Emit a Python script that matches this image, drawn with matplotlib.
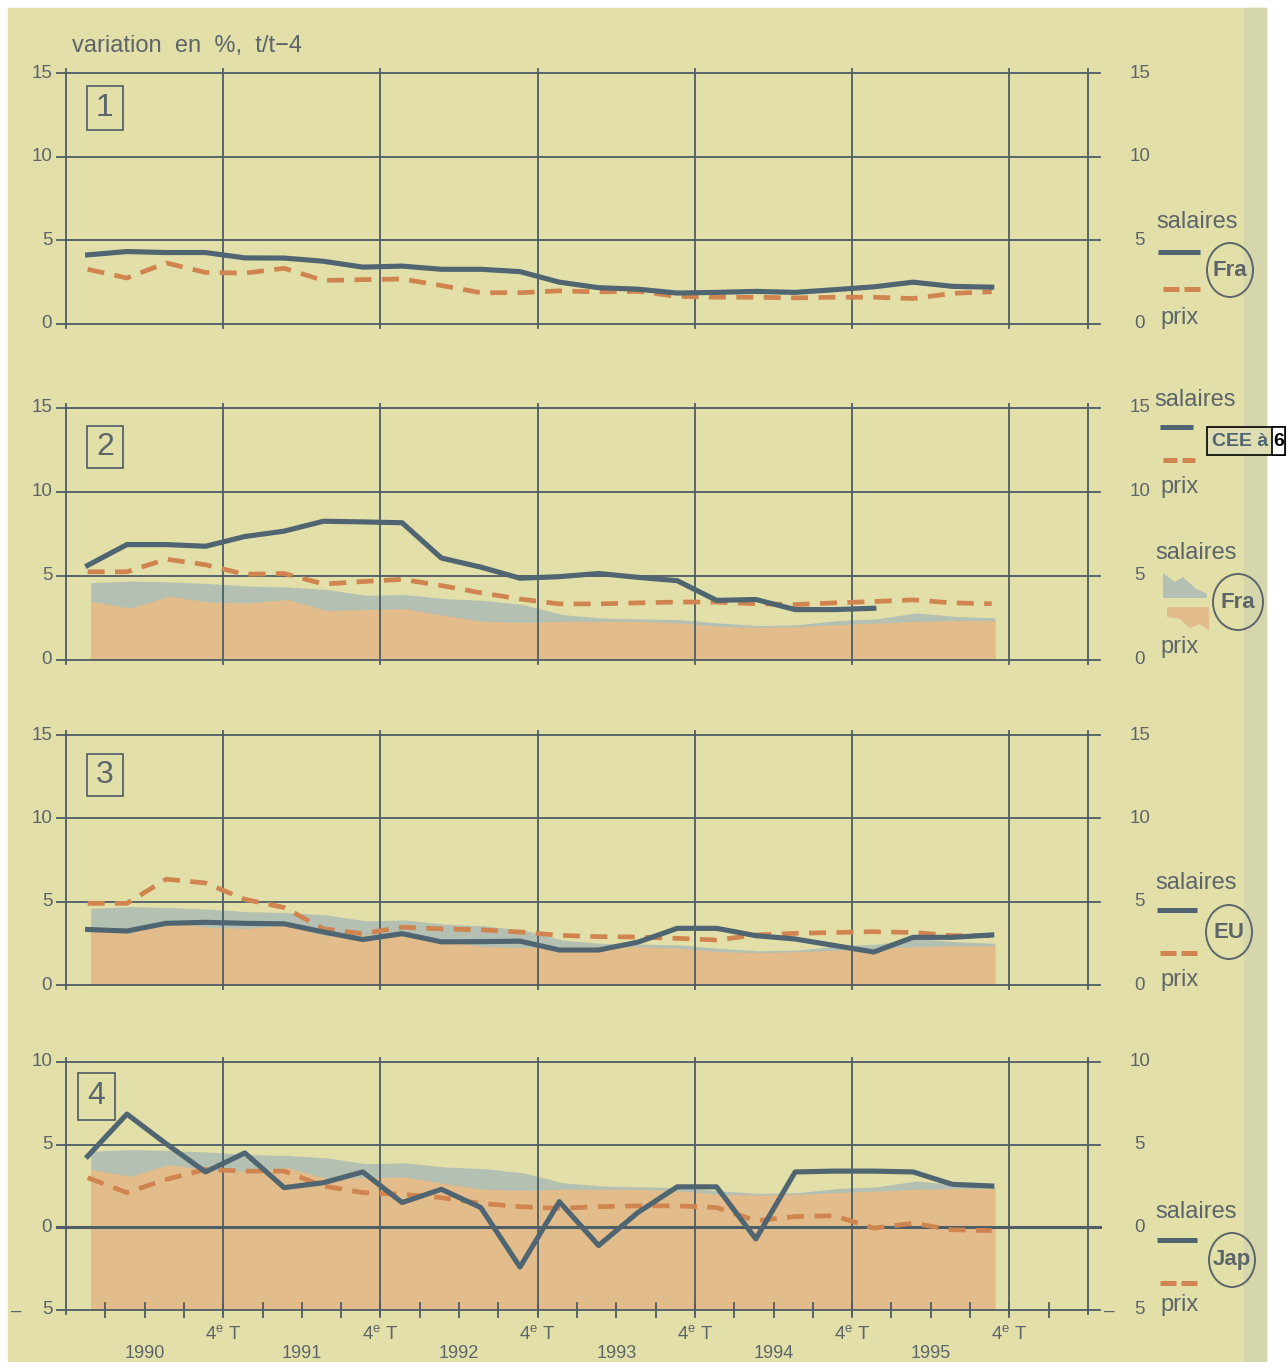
import numpy as np
import matplotlib
matplotlib.use('Agg')
import matplotlib.pyplot as plt
import matplotlib.transforms as mtransforms
from matplotlib.patches import Rectangle, Ellipse, Polygon
from matplotlib.lines import Line2D

plt.rcParams['font.family'] = ['Liberation Sans', 'DejaVu Sans']
plt.rcParams['mathtext.fontset'] = 'custom'
plt.rcParams['mathtext.rm'] = 'Liberation Sans'

# --- données (variation en %, t/t-4), 1990T1 ... 1995T4 ---
annees = ['1990', '1991', '1992', '1993', '1994', '1995']

fra_salaires = [4.13, 4.33, 4.27, 4.27, 3.95, 3.94, 3.75, 3.40, 3.46, 3.27, 3.27, 3.13,
                2.50, 2.17, 2.08, 1.85, 1.89, 1.95, 1.89, 2.05, 2.22, 2.50, 2.25, 2.20]
fra_prix = [3.27, 2.75, 3.65, 3.08, 3.04, 3.33, 2.60, 2.65, 2.69, 2.30, 1.87, 1.87,
            1.98, 1.92, 1.95, 1.65, 1.60, 1.60, 1.56, 1.60, 1.60, 1.52, 1.83, 1.93]

cee_salaires = [5.63, 6.87, 6.87, 6.77, 7.35, 7.67, 8.26, 8.22, 8.17, 6.07, 5.53, 4.87,
                4.96, 5.15, 4.92, 4.72, 3.55, 3.60, 3.00, 3.00, 3.08]
cee_prix = [5.25, 5.25, 6.00, 5.67, 5.10, 5.15, 4.52, 4.67, 4.80, 4.43, 4.00, 3.63,
            3.34, 3.34, 3.40, 3.45, 3.45, 3.35, 3.30, 3.40, 3.48, 3.58, 3.40, 3.35]

eu_salaires = [3.33, 3.24, 3.70, 3.76, 3.70, 3.67, 3.18, 2.73, 3.08, 2.59, 2.60, 2.63,
               2.10, 2.10, 2.57, 3.40, 3.40, 2.96, 2.76, 2.37, 1.98, 2.86, 2.86, 3.00]
eu_prix = [4.90, 4.90, 6.35, 6.12, 5.14, 4.65, 3.37, 3.08, 3.47, 3.37, 3.31, 3.18,
           2.98, 2.90, 2.88, 2.80, 2.70, 3.00, 3.10, 3.15, 3.20, 3.15, 2.96, 2.96]

jap_salaires = [4.30, 6.85, 5.05, 3.35, 4.50, 2.40, 2.70, 3.35, 1.50, 2.30, 1.20, -2.40,
                1.55, -1.10, 0.90, 2.45, 2.45, -0.70, 3.35, 3.40, 3.40, 3.35, 2.60, 2.50]
jap_prix = [3.00, 2.10, 2.90, 3.50, 3.40, 3.40, 2.50, 2.10, 2.00, 1.80, 1.45, 1.25,
            1.15, 1.25, 1.30, 1.30, 1.20, 0.40, 0.65, 0.70, -0.05, 0.25, -0.15, -0.20]

# fond de comparaison (France) dans les cadres 2 à 4
fond_salaires = [4.60, 4.70, 4.65, 4.55, 4.40, 4.35, 4.20, 3.85, 3.90, 3.65, 3.55, 3.30,
                 2.70, 2.50, 2.45, 2.40, 2.20, 2.05, 2.10, 2.35, 2.45, 2.80, 2.60, 2.50]
fond_prix = [3.50, 3.10, 3.80, 3.45, 3.40, 3.60, 2.95, 3.00, 3.05, 2.65, 2.30, 2.25,
             2.30, 2.30, 2.30, 2.20, 2.00, 1.95, 2.00, 2.10, 2.20, 2.30, 2.35, 2.35]

# --- style ---
W, H = 1287, 1362
FOND = '#e3dfa9'
GRILLE = '#4e5d66'
SAL = '#4f6571'
PRIX = '#d0844f'
PECHE = '#e2bd8b'
GRIS = '#b3c0b2'
TEXTE = '#5c666a'
X0, X1 = 66, 1088          # bord gauche / droit des cadres en pixels
TAILLE = 13.5


def fx(x):
    return x / W


def fy(y):
    return 1 - y / H


def pos(n, decal=0.55):
    return np.arange(n) + decal


fig = plt.figure(figsize=(W / 100, H / 100), dpi=100)
fig.patch.set_facecolor('white')
fig.add_artist(Rectangle((fx(8), 0), fx(1266) - fx(8), fy(8), transform=fig.transFigure,
                         color=FOND, zorder=-10))
fig.add_artist(Rectangle((fx(1244), 0), fx(22), fy(8), transform=fig.transFigure,
                         color='#d5d6ab', zorder=-9))

fig.text(fx(72), fy(46), 'variation  en  %,  t/t\u22124', fontsize=17, color=TEXTE,
         va='center', ha='left')


def cadre(top, bot, ymin, ymax, numero, boite):
    ax = fig.add_axes([fx(X0), fy(bot), fx(X1) - fx(X0), (bot - top) / H])
    ax.set_xlim(0, 26)
    ax.set_ylim(ymin, ymax)
    ax.axis('off')
    ext = 0.25 * (ymax - ymin) / 15
    for y in range(ymin, ymax + 1, 5):
        ax.plot([-0.22, 26.3], [y, y], color=GRILLE, lw=1.3, clip_on=False, zorder=2)
    for x in [0, 4, 8, 12, 16, 20, 24, 26]:
        ax.plot([x, x], [ymin - ext, ymax + ext], color=GRILLE, lw=1.3,
                clip_on=False, zorder=2)
    for y in range(ymin, ymax + 1, 5):
        lab = str(abs(y))
        ax.text(-0.35, y, lab, ha='right', va='center', fontsize=TAILLE, color=TEXTE)
        ax.text(27.32, y, lab, ha='center', va='center', fontsize=TAILLE, color=TEXTE)
    bx0, by0, bx1, by1 = boite
    fig.add_artist(Rectangle((fx(bx0), fy(by1)), fx(bx1 - bx0), (by1 - by0) / H,
                             transform=fig.transFigure, fill=False, ec=GRILLE, lw=1.2))
    fig.text(fx((bx0 + bx1) / 2), fy((by0 + by1) / 2), numero, ha='center', va='center',
             fontsize=23, color=TEXTE)
    return ax


def courbes(ax, salaires, prix, ymin, fond=True):
    if fond:
        xf = pos(len(fond_salaires), 0.63)
        ax.fill_between(xf, ymin, fond_salaires, color=GRIS, lw=0, zorder=0)
        ax.fill_between(xf, ymin, fond_prix, color=PECHE, lw=0, zorder=0.5)
    ax.plot(pos(len(prix)), prix, color=PRIX, lw=3.4, dashes=(3.6, 2.2),
            dash_capstyle='butt', zorder=3)
    ax.plot(pos(len(salaires)), salaires, color=SAL, lw=3.7,
            solid_joinstyle='round', zorder=4)


def trait(x0, x1, y, tirets=False):
    if tirets:
        m = (x0 + x1) / 2
        for a, b in [(x0, m - 2.5), (m + 2.5, x1)]:
            fig.add_artist(Line2D([fx(a), fx(b)], [fy(y), fy(y)], transform=fig.transFigure,
                                  color=PRIX, lw=3.6, solid_capstyle='butt'))
    else:
        fig.add_artist(Line2D([fx(x0), fx(x1)], [fy(y), fy(y)], transform=fig.transFigure,
                              color=SAL, lw=3.6, solid_capstyle='butt'))


def pays(nom, cx, cy, w=46, h=54):
    fig.add_artist(Ellipse((fx(cx), fy(cy)), w / W, h / H, transform=fig.transFigure,
                           fill=False, ec=TEXTE, lw=1.4))
    fig.text(fx(cx), fy(cy), nom, ha='center', va='center', fontsize=16,
             fontweight='bold', color=TEXTE)


def mots(y_sal, y_prix, x_sal=1197):
    fig.text(fx(x_sal), fy(y_sal), 'salaires', ha='center', va='center', fontsize=17,
             color=TEXTE)
    fig.text(fx(1160), fy(y_prix), 'prix', ha='left', va='center', fontsize=17,
             color=TEXTE)


# cadre 1 : France
ax1 = cadre(73, 324, 0, 15, '1', (87, 86, 123, 130))
courbes(ax1, fra_salaires, fra_prix, 0, fond=False)
mots(222, 318)
trait(1158, 1200, 252)
trait(1163, 1200, 289, tirets=True)
pays('Fra', 1230, 270)

# cadre 2 : CEE à 6 et fond France
ax2 = cadre(408, 660, 0, 15, '2', (87, 426, 123, 468))
courbes(ax2, cee_salaires, cee_prix, 0)
mots(400, 487, x_sal=1195)
trait(1160, 1193, 427)
trait(1163, 1195, 460, tirets=True)
fig.add_artist(Rectangle((fx(1207), fy(455)), fx(78), 28 / H, transform=fig.transFigure,
                         fc='#dfddb4', ec='black', lw=1.2))
fig.text(fx(1212), fy(441), 'CEE à', ha='left', va='center', fontsize=14,
         fontweight='bold', color=SAL)
fig.add_artist(Rectangle((fx(1272), fy(455)), fx(13), 28 / H, transform=fig.transFigure,
                         fc='white', ec='black', lw=1.2))
fig.text(fx(1278.5), fy(441), '6', ha='center', va='center', fontsize=14,
         fontweight='bold', color='black')
mots(553, 647, x_sal=1196)
fig.add_artist(Polygon([(fx(1163), fy(573)), (fx(1175), fy(582)), (fx(1183), fy(577)),
                        (fx(1195), fy(588)), (fx(1207), fy(594)), (fx(1207), fy(598)),
                        (fx(1163), fy(598))], closed=True, transform=fig.transFigure,
                       color=GRIS, lw=0))
fig.add_artist(Polygon([(fx(1167), fy(607)), (fx(1209), fy(607)), (fx(1209), fy(631)),
                        (fx(1200), fy(624)), (fx(1190), fy(628)), (fx(1180), fy(619)),
                        (fx(1167), fy(617))], closed=True, transform=fig.transFigure,
                       color=PECHE, lw=0))
pays('Fra', 1238, 602, w=50, h=56)

# cadre 3 : Etats-Unis
ax3 = cadre(735, 985, 0, 15, '3', (87, 754, 123, 796))
courbes(ax3, eu_salaires, eu_prix, 0)
mots(883, 980, x_sal=1196)
trait(1157, 1197, 910)
trait(1160, 1197, 953, tirets=True)
pays('EU', 1229, 932)

# cadre 4 : Japon
ax4 = cadre(1062, 1310, -5, 10, '4', (78, 1073, 115, 1120))
courbes(ax4, jap_salaires, jap_prix, -5)
ax4.plot([-0.22, 26.3], [0, 0], color=GRILLE, lw=2.2, clip_on=False, zorder=2)
for q in range(1, 26):
    ax4.plot([q, q], [-5.42, -4.58], color=GRILLE, lw=1.3, clip_on=False, zorder=2)
fig.text(fx(16), fy(1311), '\u2013', ha='center', va='center', fontsize=TAILLE, color=TEXTE)
fig.text(fx(1109), fy(1311), '\u2013', ha='center', va='center', fontsize=TAILLE, color=TEXTE)
mots(1212, 1305, x_sal=1196)
trait(1157, 1197, 1240)
trait(1160, 1197, 1283, tirets=True)
pays('Jap', 1232, 1260)

bas = mtransforms.blended_transform_factory(ax4.transData, fig.transFigure)
for k, an in enumerate(annees):
    ax4.text(4 * k + 2, fy(1353), an, transform=bas, ha='center', va='center',
             fontsize=13, color=TEXTE)
    ax4.text(4 * k + 4, fy(1335), '4$^{\\mathrm{e}}$ T', transform=bas, ha='center',
             va='center', fontsize=13.5, color=TEXTE)

fig.savefig('out.png', dpi=100, facecolor=fig.get_facecolor())
